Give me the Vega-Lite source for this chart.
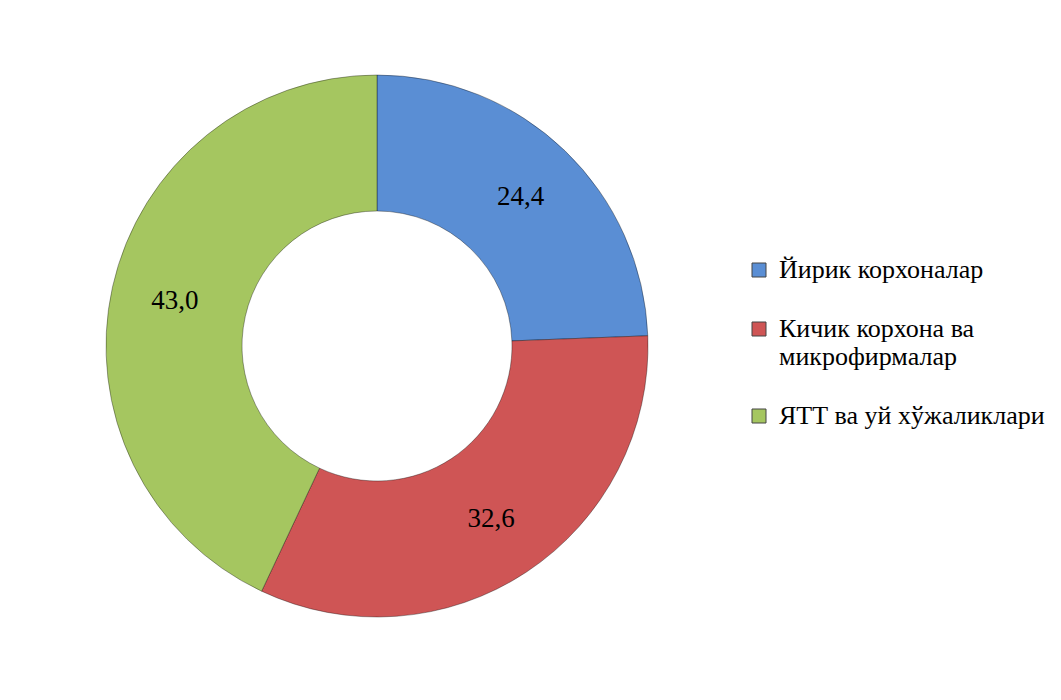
{
  "$schema": "https://vega.github.io/schema/vega-lite/v6.json",
  "width": 754,
  "height": 692,
  "padding": {"left": 0, "top": 0, "right": 0, "bottom": 8},
  "background": "white",
  "config": {"view": {"stroke": null}, "font": "Liberation Serif, Times New Roman, DejaVu Serif, serif"},
  "data": {
    "values": [
      {"category": "Йирик корхоналар", "value": 24.4, "label": "24,4", "ord": 1},
      {"category": "Кичик корхона ва микрофирмалар", "value": 32.6, "label": "32,6", "ord": 2},
      {"category": "ЯТТ ва уй хўжаликлари", "value": 43.0, "label": "43,0", "ord": 3}
    ]
  },
  "encoding": {
    "theta": {"field": "value", "type": "quantitative", "stack": true},
    "order": {"field": "ord", "type": "quantitative"}
  },
  "layer": [
    {
      "mark": {"type": "arc", "innerRadius": 135, "outerRadius": 271, "stroke": "#000000", "strokeOpacity": 0.35, "strokeWidth": 1},
      "encoding": {
        "color": {
          "field": "category",
          "type": "nominal",
          "sort": ["Йирик корхоналар", "Кичик корхона ва микрофирмалар", "ЯТТ ва уй хўжаликлари"],
          "scale": {
            "domain": ["Йирик корхоналар", "Кичик корхона ва микрофирмалар", "ЯТТ ва уй хўжаликлари"],
            "range": ["#5A8ED4", "#CF5555", "#A5C660"]
          },
          "legend": {
            "title": null,
            "orient": "none",
            "legendX": 746,
            "legendY": 257,
            "padding": 0,
            "symbolType": "square",
            "symbolSize": 196,
            "symbolStrokeWidth": 1,
            "symbolStrokeColor": "#444444",
            "labelFont": "Liberation Serif, Times New Roman, DejaVu Serif, serif",
            "labelFontSize": 26,
            "labelColor": "#000000",
            "labelLimit": 400,
            "labelOffset": 7,
            "rowPadding": 33,
            "labelExpr": "datum.label == 'Кичик корхона ва микрофирмалар' ? ['Кичик корхона ва', 'микрофирмалар'] : datum.label"
          }
        }
      }
    },
    {
      "mark": {"type": "text", "radius": 207, "font": "Liberation Serif, Times New Roman, DejaVu Serif, serif", "fontSize": 27, "color": "#000000"},
      "encoding": {
        "text": {"field": "label", "type": "nominal"}
      }
    }
  ]
}
